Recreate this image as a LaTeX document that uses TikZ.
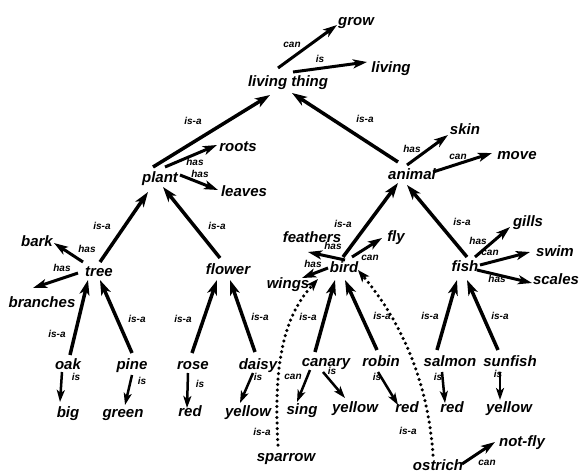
\documentclass[tikz,border=0pt]{standalone}
\usepackage{fontspec}
\setmainfont{Liberation Sans}
\usetikzlibrary{arrows.meta}
\begin{document}
\begin{tikzpicture}[x=1pt,y=-1pt,
  concept/.style={font=\fontsize{15}{15}\selectfont\bfseries\itshape, inner sep=0pt, text height=8pt, text depth=0pt},
  lbl/.style={font=\fontsize{10}{10}\selectfont\bfseries\itshape, inner sep=0pt, text height=5pt, text depth=0pt},
  isa/.style={line width=3.5pt, -{Stealth[length=15pt,width=10pt,inset=4pt]}},
  rel/.style={line width=3pt, -{Stealth[length=14pt,width=9pt,inset=3.5pt]}},
  prop/.style={line width=2.5pt, -{Stealth[length=12pt,width=8pt,inset=3pt]}},
  dotlink/.style={line width=3.5pt, line cap=round, dash pattern=on 0pt off 5.5pt, -{Stealth[length=12pt,width=9pt,inset=3pt]}},
]
\useasboundingbox (0,0) rectangle (581,471);

% concepts
\node[concept] (lt) at (288,82) {living thing};
\node[concept] (grow) at (356,21) {grow};
\node[concept] (living) at (391,68) {living};
\node[concept] (plant) at (160,178) {plant};
\node[concept] (roots) at (238,147) {roots};
\node[concept] (leaves) at (244,192) {leaves};
\node[concept] (animal) at (412,175) {animal};
\node[concept] (skin) at (465,130) {skin};
\node[concept] (move) at (517,155) {move};
\node[concept] (tree) at (99,272) {tree};
\node[concept] (bark) at (37,242) {bark};
\node[concept] (branches) at (42,303) {branches};
\node[concept] (flower) at (228,270) {flower};
\node[concept] (bird) at (344,268) {bird};
\node[concept] (feathers) at (312,238) {feathers};
\node[concept] (fly) at (396,237) {fly};
\node[concept] (wings) at (288,284) {wings};
\node[concept] (fish) at (465,267) {fish};
\node[concept] (gills) at (528,222) {gills};
\node[concept] (swim) at (555,252) {swim};
\node[concept] (scales) at (556,280) {scales};
\node[concept] (oak) at (68,365) {oak};
\node[concept] (pine) at (132,365) {pine};
\node[concept] (rose) at (193,365) {rose};
\node[concept] (daisy) at (258,365) {daisy};
\node[concept] (canary) at (326,362) {canary};
\node[concept] (robin) at (381,362) {robin};
\node[concept] (salmon) at (450,362) {salmon};
\node[concept] (sunfish) at (510,362) {sunfish};
\node[concept] (big) at (68,413) {big};
\node[concept] (green) at (123,413) {green};
\node[concept] (redA) at (190,412) {red};
\node[concept] (yellowA) at (248,412) {yellow};
\node[concept] (sing) at (302,410) {sing};
\node[concept] (yellowB) at (355,408) {yellow};
\node[concept] (redB) at (407,408) {red};
\node[concept] (redC) at (452,408) {red};
\node[concept] (yellowC) at (509,408) {yellow};
\node[concept] (sparrow) at (286,457) {sparrow};
\node[concept] (ostrich) at (438,466) {ostrich};
\node[concept] (notfly) at (522,442) {not-fly};

% is-a links
\draw[isa] ([shift={(-7,-11)}]plant.center) -- ([shift={(-18,13)}]lt.center);
\draw[isa] ([shift={(-14,-13)}]animal.center) -- ([shift={(4,11)}]lt.center);
\draw[isa] ([shift={(1,-10)}]tree.center) -- ([shift={(-12,14)}]plant.center);
\draw[isa] ([shift={(-8,-12)}]flower.center) -- ([shift={(3,9)}]plant.center);
\draw[isa] ([shift={(-1,-11)}]bird.center) -- ([shift={(-14,8)}]animal.center);
\draw[isa] ([shift={(2,-10)}]fish.center) -- ([shift={(-5,10)}]animal.center);
\draw[isa] ([shift={(2,-10)}]oak.center) -- ([shift={(-11,8)}]tree.center);
\draw[isa] ([shift={(0,-12)}]pine.center) -- ([shift={(1,8)}]tree.center);
\draw[isa] ([shift={(-1,-12)}]rose.center) -- ([shift={(-11,10)}]flower.center);
\draw[isa] ([shift={(-3,-13)}]daisy.center) -- ([shift={(2,10)}]flower.center);
\draw[isa] ([shift={(-11,-10)}]canary.center) -- ([shift={(-9,12)}]bird.center);
\draw[isa] ([shift={(-4,-12)}]robin.center) -- ([shift={(1,12)}]bird.center);
\draw[isa] ([shift={(-13,-12)}]salmon.center) -- ([shift={(-8,13)}]fish.center);
\draw[isa] ([shift={(-12,-12)}]sunfish.center) -- ([shift={(2,13)}]fish.center);

% dotted is-a links of the exceptions
\draw[dotlink] ([shift={(-8,-12)}]sparrow.center) .. controls (273,360) and (285,315) .. ([shift={(-26,11)}]bird.center);
\draw[dotlink] ([shift={(-5,-11)}]ostrich.center) .. controls (428,380) and (400,320) .. ([shift={(14,2)}]bird.center);

% property links
\draw[rel] ([shift={(-10,-14)}]lt.center) -- ([shift={(-19,4)}]grow.center);
\draw[rel] ([shift={(5,-10)}]lt.center) -- ([shift={(-24,-6)}]living.center);
\draw[rel] ([shift={(5,-11)}]plant.center) -- ([shift={(-21,-2)}]roots.center);
\draw[rel] ([shift={(20,-3)}]plant.center) -- ([shift={(-26,-2)}]leaves.center);
\draw[rel] ([shift={(-5,-10)}]animal.center) -- ([shift={(-17,5)}]skin.center);
\draw[rel] ([shift={(21,-3)}]animal.center) -- ([shift={(-25,-2)}]move.center);
\draw[rel] ([shift={(-16,-10)}]tree.center) -- ([shift={(17,1)}]bark.center);
\draw[rel] ([shift={(-21,1)}]tree.center) -- ([shift={(-9,-15)}]branches.center);
\draw[rel] ([shift={(1,-8)}]bird.center) -- ([shift={(-4,14)}]feathers.center);
\draw[rel] ([shift={(8,-11)}]bird.center) -- ([shift={(-14,1)}]fly.center);
\draw[rel] ([shift={(-16,0)}]bird.center) -- ([shift={(14,-6)}]wings.center);
\draw[rel] ([shift={(10,-10)}]fish.center) -- ([shift={(-18,5)}]gills.center);
\draw[rel] ([shift={(15,-2)}]fish.center) -- ([shift={(-25,0)}]swim.center);
\draw[rel] ([shift={(12,3)}]fish.center) -- ([shift={(-24,3)}]scales.center);
\draw[rel] ([shift={(24,-2)}]ostrich.center) -- ([shift={(-27,0)}]notfly.center);

\draw[prop] ([shift={(-6,7)}]oak.center) -- ([shift={(-8,-11)}]big.center);
\draw[prop] ([shift={(0,10)}]pine.center) -- ([shift={(2,-8)}]green.center);
\draw[prop] ([shift={(-5,8)}]rose.center) -- ([shift={(-3,-4)}]redA.center);
\draw[prop] ([shift={(-5,8)}]daisy.center) -- ([shift={(-8,-9)}]yellowA.center);
\draw[prop] ([shift={(-16,8)}]canary.center) -- ([shift={(-5,-8)}]sing.center);
\draw[prop] ([shift={(-3,10)}]canary.center) -- ([shift={(-10,-10)}]yellowB.center);
\draw[prop] ([shift={(-3,10)}]robin.center) -- ([shift={(-9,-3)}]redB.center);
\draw[prop] ([shift={(-8,10)}]salmon.center) -- ([shift={(-7,-5)}]redC.center);
\draw[prop] ([shift={(-10,10)}]sunfish.center) -- ([shift={(-9,-8)}]yellowC.center);

% link labels
\node[lbl] (l1) at (292,45) {can};
\node[lbl] (l2) at (320,60) {is};
\node[lbl] (l3) at (193,122) {is-a};
\node[lbl] (l4) at (365,120) {is-a};
\node[lbl] (l5) at (195,163) {has};
\node[lbl] (l6) at (200,175) {has};
\node[lbl] (l7) at (412,150) {has};
\node[lbl] (l8) at (458,157) {can};
\node[lbl] (l9) at (102,227) {is-a};
\node[lbl] (l10) at (217,227) {is-a};
\node[lbl] (l11) at (87,250) {has};
\node[lbl] (l12) at (62,269) {has};
\node[lbl] (l13) at (343,225) {is-a};
\node[lbl] (l14) at (462,223) {is-a};
\node[lbl] (l15) at (333,247) {has};
\node[lbl] (l16) at (370,258) {can};
\node[lbl] (l17) at (313,265) {has};
\node[lbl] (l18) at (478,242) {has};
\node[lbl] (l19) at (490,253) {can};
\node[lbl] (l20) at (497,280) {has};
\node[lbl] (l21) at (57,335) {is-a};
\node[lbl] (l22) at (137,320) {is-a};
\node[lbl] (l23) at (183,320) {is-a};
\node[lbl] (l24) at (260,318) {is-a};
\node[lbl] (l25) at (308,318) {is-a};
\node[lbl] (l26) at (382,317) {is-a};
\node[lbl] (l27) at (430,317) {is-a};
\node[lbl] (l28) at (500,317) {is-a};
\node[lbl] (l29) at (76,378) {is};
\node[lbl] (l30) at (142,382) {is};
\node[lbl] (l31) at (200,385) {is};
\node[lbl] (l32) at (258,378) {is};
\node[lbl] (l33) at (293,377) {can};
\node[lbl] (l34) at (332,372) {is};
\node[lbl] (l35) at (377,378) {is};
\node[lbl] (l36) at (438,378) {is};
\node[lbl] (l37) at (498,375) {is};
\node[lbl] (l38) at (487,463) {can};
\node[lbl] (l39) at (262,433) {is-a};
\node[lbl] (l40) at (408,432) {is-a};
\end{tikzpicture}
\end{document}
